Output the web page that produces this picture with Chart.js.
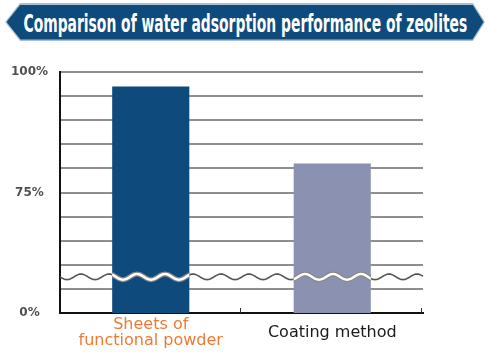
<!DOCTYPE html>
<html>
<head>
<meta charset="utf-8">
<script src="https://cdn.jsdelivr.net/npm/chart.js@4.4.1/dist/chart.umd.min.js"></script>
<style>
  html, body { margin: 0; padding: 0; background: #fff; }
  #wrap { position: relative; width: 489px; height: 355px; overflow: hidden; }
  #chart { position: absolute; left: 0; top: 0; }
  #banner { position: absolute; left: 5px; top: 3px; width: 480px; height: 38px;
    background: #a9bfd3;
    clip-path: polygon(0 50%, 15px 0, calc(100% - 12px) 0, 100% 50%, calc(100% - 12px) 100%, 15px 100%); }
  #bannerIn { position: absolute; left: 1.5px; top: 1.5px; right: 1.5px; bottom: 1.5px;
    background: #0f4a7c;
    clip-path: polygon(0 50%, 14px 0, calc(100% - 11px) 0, 100% 50%, calc(100% - 11px) 100%, 14px 100%);
    display: flex; align-items: center; justify-content: center; }
  #title { display: inline-block; white-space: nowrap; color: #fff;
    font-family: "Liberation Sans Narrow", "DejaVu Sans Condensed", "Liberation Sans", sans-serif;
    font-weight: 600; font-size: 25px; line-height: 1; transform-origin: center center;
    position: relative; top: 1px; }
</style>
</head>
<body>
<div id="wrap">
  <canvas id="chart" width="489" height="355"></canvas>
  <div id="banner"><div id="bannerIn"><span id="title">Comparison of water adsorption performance of zeolites</span></div></div>
</div>
<script>
// ---- data ----
const categories = [['Sheets of', 'functional powder'], 'Coating method'];
const values = [97, 81];
const barColors = ['#0f4a7c', '#8b91b0'];
const labelColors = ['#f07a32', '#1a1a1a'];
const tickValues = [100, 75, 50];
const tickLabels = ['100%', '75%', '0%'];
const axisMin = 50, axisMax = 100, axisStep = 5;
const breakAt = 57.5;

// fit title width
(function () {
  const t = document.getElementById('title');
  const w = t.offsetWidth;
  t.style.transform = 'scaleX(' + (444 / w) + ')';
})();

const breakPlugin = {
  id: 'breakPlugin',
  afterDatasetsDraw(chart) {
    const ctx = chart.ctx;
    const area = chart.chartArea;
    const y = chart.scales.y.getPixelForValue(breakAt);
    const period = 28, amp = 2.8;
    const wave = () => {
      ctx.beginPath();
      for (let x = area.left; x <= area.right; x += 1) {
        const yy = y + amp * Math.sin((x - area.left) / period * Math.PI * 2);
        if (x === area.left) ctx.moveTo(x, yy); else ctx.lineTo(x, yy);
      }
    };
    ctx.save();
    wave();
    ctx.strokeStyle = '#555';
    ctx.lineWidth = 1.6;
    ctx.stroke();
    const meta = chart.getDatasetMeta(0);
    meta.data.forEach(bar => {
      const p = bar.getProps(['x', 'width'], true);
      ctx.save();
      ctx.beginPath();
      ctx.rect(p.x - p.width / 2, area.top, p.width, area.bottom - area.top);
      ctx.clip();
      wave();
      ctx.strokeStyle = '#888';
      ctx.lineWidth = 5;
      ctx.stroke();
      wave();
      ctx.strokeStyle = '#fff';
      ctx.lineWidth = 2.5;
      ctx.stroke();
      ctx.restore();
    });
    // small upward tick marks at category boundaries
    const xs = chart.scales.x;
    const cw = (xs.right - xs.left) / categories.length;
    ctx.strokeStyle = '#333';
    ctx.lineWidth = 1;
    for (let i = 0; i < categories.length; i++) {
      const bx = Math.round(xs.getPixelForValue(i) + cw / 2) - 1.5;
      ctx.beginPath();
      ctx.moveTo(bx, area.bottom);
      ctx.lineTo(bx, area.bottom - 5);
      ctx.stroke();
    }
    ctx.restore();
  }
};

new Chart(document.getElementById('chart'), {
  type: 'bar',
  data: {
    labels: categories,
    datasets: [{
      data: values,
      backgroundColor: barColors,
      borderWidth: 0,
      categoryPercentage: 1,
      barPercentage: 0.425
    }]
  },
  options: {
    responsive: false,
    animation: false,
    events: [],
    layout: { padding: { top: 72, right: 66, left: 0, bottom: 0 } },
    plugins: { legend: { display: false }, tooltip: { enabled: false }, title: { display: false } },
    scales: {
      x: {
        grid: { display: false, drawTicks: false },
        border: { display: true, color: '#111', width: 2 },
        ticks: {
          padding: 12,
          crossAlign: 'center',
          maxRotation: 0,
          autoSkip: false,
          font: { family: '"DejaVu Sans", sans-serif', size: 16, lineHeight: 1 },
          color: (c) => labelColors[c.index]
        },
        afterFit(s) { s.height = 42; }
      },
      y: {
        min: axisMin,
        max: axisMax,
        grid: { color: '#8e8e8e', lineWidth: 2, drawTicks: false },
        border: { display: true, color: '#111', width: 2 },
        ticks: {
          stepSize: axisStep,
          autoSkip: false,
          padding: 12,
          crossAlign: 'center',
          color: '#505050',
          font: { family: '"DejaVu Sans", sans-serif', size: 12, weight: 'bold' },
          callback: (v) => {
            const i = tickValues.indexOf(v);
            return i >= 0 ? tickLabels[i] : '';
          }
        },
        afterFit(s) { s.width = 60; }
      }
    }
  },
  plugins: [breakPlugin]
});
</script>
</body>
</html>
